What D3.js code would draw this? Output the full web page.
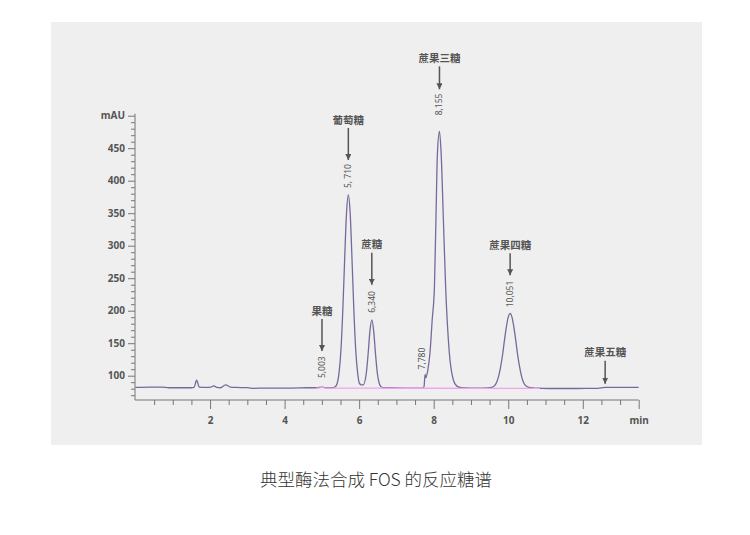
<!DOCTYPE html>
<html><head><meta charset="utf-8">
<script src="https://cdn.jsdelivr.net/npm/d3@7"></script>
<style>
html,body{margin:0;padding:0;background:#fff;}
svg{display:block;}
</style></head>
<body>
<svg id="c" width="750" height="535"></svg>
<script>
// ---- data ----
const traceTime = [0.0,0.4,0.7,0.9,1.2,1.5,1.57,1.64,1.71,1.9,2.02,2.1,2.18,2.28,2.42,2.55,2.7,3.0,3.2,3.4,3.8,4.2,4.6,4.85,5.0,5.1,5.3,
  5.36,5.41,5.46,5.51,5.56,5.61,5.66,5.71,5.76,5.81,5.86,5.91,5.96,6.01,6.06,6.11,6.19,6.24,6.29,6.34,6.39,6.44,6.49,6.54,6.59,6.66,
  6.9,7.2,7.5,7.7,7.74,7.77,7.79,7.84,7.90,7.96,8.02,8.06,8.10,8.155,8.20,8.26,8.32,8.42,8.53,8.62,8.75,
  9.0,9.3,9.55,9.65,9.70,9.75,9.80,9.85,9.90,9.95,10.0,10.05,10.10,10.15,10.20,10.25,10.30,10.35,10.40,10.45,10.55,10.7,
  10.9,11.3,11.7,12.1,12.4,12.6,12.8,13.1,13.5];
const traceValue = [82,82.5,82.5,81.5,81.5,81.5,82,93,82.5,82,82.5,84.5,82,81.5,86,82.5,82,81.5,80.5,81,81,81,81.5,81.5,82.5,81.5,81.5,
  83,88,104,138,198,277,349,378,349,277,198,138,104,88,86,86,103,133,169,186,169,133,103,88,83,81.5,
  81.5,81,81,81,83,102,97,108,135,186,237,340,442,476,442,340,237,135,93,84,81.5,
  81,81,82,86,91.6,100.8,115,133,155,175,190,196,190,175,155,133,115,101,91,86,82,81,
  80.6,80.3,80.3,80.5,80.6,82,82,82,82];
const baseTime = [4.85,4.95,5.0,5.06,5.2,6.0,7.0,8.0,9.0,10.0,10.85];
const baseValue = [80.8,81.2,82.4,81.2,80.8,80.8,80.7,80.7,80.6,80.6,80.6];

const yMajorTicks = [100,150,200,250,300,350,400,450,500];
const xMajorTicks = [2,4,6,8,10,12,13.5];
const xTickLabels = ["2","4","6","8","10","12","min"];

const peakNames = ["果糖","葡萄糖","蔗糖","蔗果三糖","蔗果四糖","蔗果五糖"];
const peakTimes = [5.003,5.710,6.340,8.155,10.051,12.6];
const peakTops = [82.5,378,186,476,196,81.5];
const peakLabels = ["5,003","5, 710","6,340","8,155","10,051",""];
const extraPeakTime = 7.77, extraPeakTop = 102, extraPeakLabel = "7,780";
const caption = "典型酶法合成 FOS 的反应糖谱";

// ---- drawing ----
const svg = d3.select("#c");
const x = d3.scaleLinear().domain([0, 13.5]).range([135.5, 638.7]);
const y = d3.scaleLinear().domain([100, 500]).range([375.7, 115.7]);
const yBottom = 400;

svg.append("rect").attr("x",51).attr("y",22).attr("width",651).attr("height",423).attr("fill","#efefef");

const axisColor = "#777";
const textColor = "#555";
const fontFam = "'Noto Sans','Noto Sans CJK SC',sans-serif";

// Y axis
const gy = svg.append("g").attr("transform","translate(135,0)");
const yMinor = d3.range(70, 500, 10).filter(v => v % 50 !== 0);
gy.call(d3.axisLeft(y).tickValues(yMinor).tickSize(4).tickFormat(""));
gy.call(g => g.select(".domain").remove());
const gy2 = svg.append("g").attr("transform","translate(135,0)");
gy2.call(d3.axisLeft(y).tickValues(yMajorTicks).tickSize(7).tickPadding(3)
   .tickFormat(d => d === 500 ? "mAU" : d));
gy2.select(".domain").remove();
svg.append("line").attr("x1",135).attr("x2",135).attr("y1",y(500)-2).attr("y2",yBottom)
   .attr("stroke",axisColor).attr("stroke-width",1);

// X axis
const gx = svg.append("g").attr("transform",`translate(0,${yBottom})`);
const xMinor = d3.range(0.5, 13.5, 0.5).filter(v => !xMajorTicks.includes(v));
gx.call(d3.axisBottom(x).tickValues(xMinor).tickSize(5).tickFormat(""));
gx.select(".domain").remove();
const gx2 = svg.append("g").attr("transform",`translate(0,${yBottom})`);
gx2.call(d3.axisBottom(x).tickValues(xMajorTicks).tickSize(9).tickPadding(8)
   .tickFormat((d,i) => xTickLabels[i]));
gx2.select(".domain").remove();
svg.append("line").attr("x1",135).attr("x2",x(13.5)).attr("y1",yBottom).attr("y2",yBottom)
   .attr("stroke",axisColor).attr("stroke-width",1);

svg.selectAll(".tick line").attr("stroke",axisColor);
svg.selectAll(".tick text").attr("fill",textColor).attr("font-family",fontFam)
   .attr("font-size",10).attr("font-weight","bold");

// trace
const tracePts = traceTime.map((t,i) => [t, traceValue[i]]);
const line = d3.line().x(d => x(d[0])).y(d => y(d[1])).curve(d3.curveMonotoneX);
svg.append("path").datum(tracePts).attr("d",line).attr("fill","none")
   .attr("stroke","#77699b").attr("stroke-width",1.3);
const basePts = baseTime.map((t,i) => [t, baseValue[i]]);
svg.append("path").datum(basePts).attr("d",line).attr("fill","none")
   .attr("stroke","#f0a3ee").attr("stroke-width",1.3);

// annotations
const defs = svg.append("defs");
defs.append("marker").attr("id","ah").attr("viewBox","0 0 10 10").attr("refX",10).attr("refY",5)
  .attr("markerWidth",6).attr("markerHeight",6).attr("markerUnits","userSpaceOnUse").attr("orient","auto")
  .append("path").attr("d","M0,0 L10,5 L0,10 Z").attr("fill","#555");

const annCfg = [
  {tipGap:36, arrowLen:32, numGap:9},
  {tipGap:35, arrowLen:32, numGap:7},
  {tipGap:35, arrowLen:32, numGap:7},
  {tipGap:42, arrowLen:23, numGap:16},
  {tipGap:38, arrowLen:22, numGap:6},
  {tipGap:4,  arrowLen:23, numGap:0}
];
peakNames.forEach((name,i) => {
  const cx = x(peakTimes[i]);
  const top = y(peakTops[i]);
  const tip = top - annCfg[i].tipGap;
  const start = tip - annCfg[i].arrowLen;
  svg.append("line").attr("x1",cx).attr("x2",cx).attr("y1",start).attr("y2",tip)
     .attr("stroke","#555").attr("stroke-width",1.5).attr("marker-end","url(#ah)");
  svg.append("text").attr("x",cx).attr("y",start-4.5).attr("text-anchor","middle")
     .attr("font-family","'Noto Sans CJK SC',sans-serif").attr("font-weight","bold")
     .attr("font-size",10.5).attr("fill","#555").text(name);
  if (peakLabels[i]) {
    svg.append("text").attr("transform",`translate(${cx+3},${top-annCfg[i].numGap}) rotate(-90)`)
       .attr("text-anchor","start").attr("font-family",fontFam).attr("font-size",8.5)
       .attr("fill","#555").text(peakLabels[i]);
  }
});
svg.append("text").attr("transform",`translate(${x(extraPeakTime)},${y(extraPeakTop)-5}) rotate(-90)`)
   .attr("text-anchor","start").attr("font-family",fontFam).attr("font-size",8.5)
   .attr("fill","#555").text(extraPeakLabel);

// caption
svg.append("text").attr("x",376).attr("y",486).attr("text-anchor","middle")
   .attr("font-family","'Noto Sans CJK SC',sans-serif").attr("font-weight",300)
   .attr("font-size",17.5).attr("fill","#333").text(caption);
</script>
</body></html>
